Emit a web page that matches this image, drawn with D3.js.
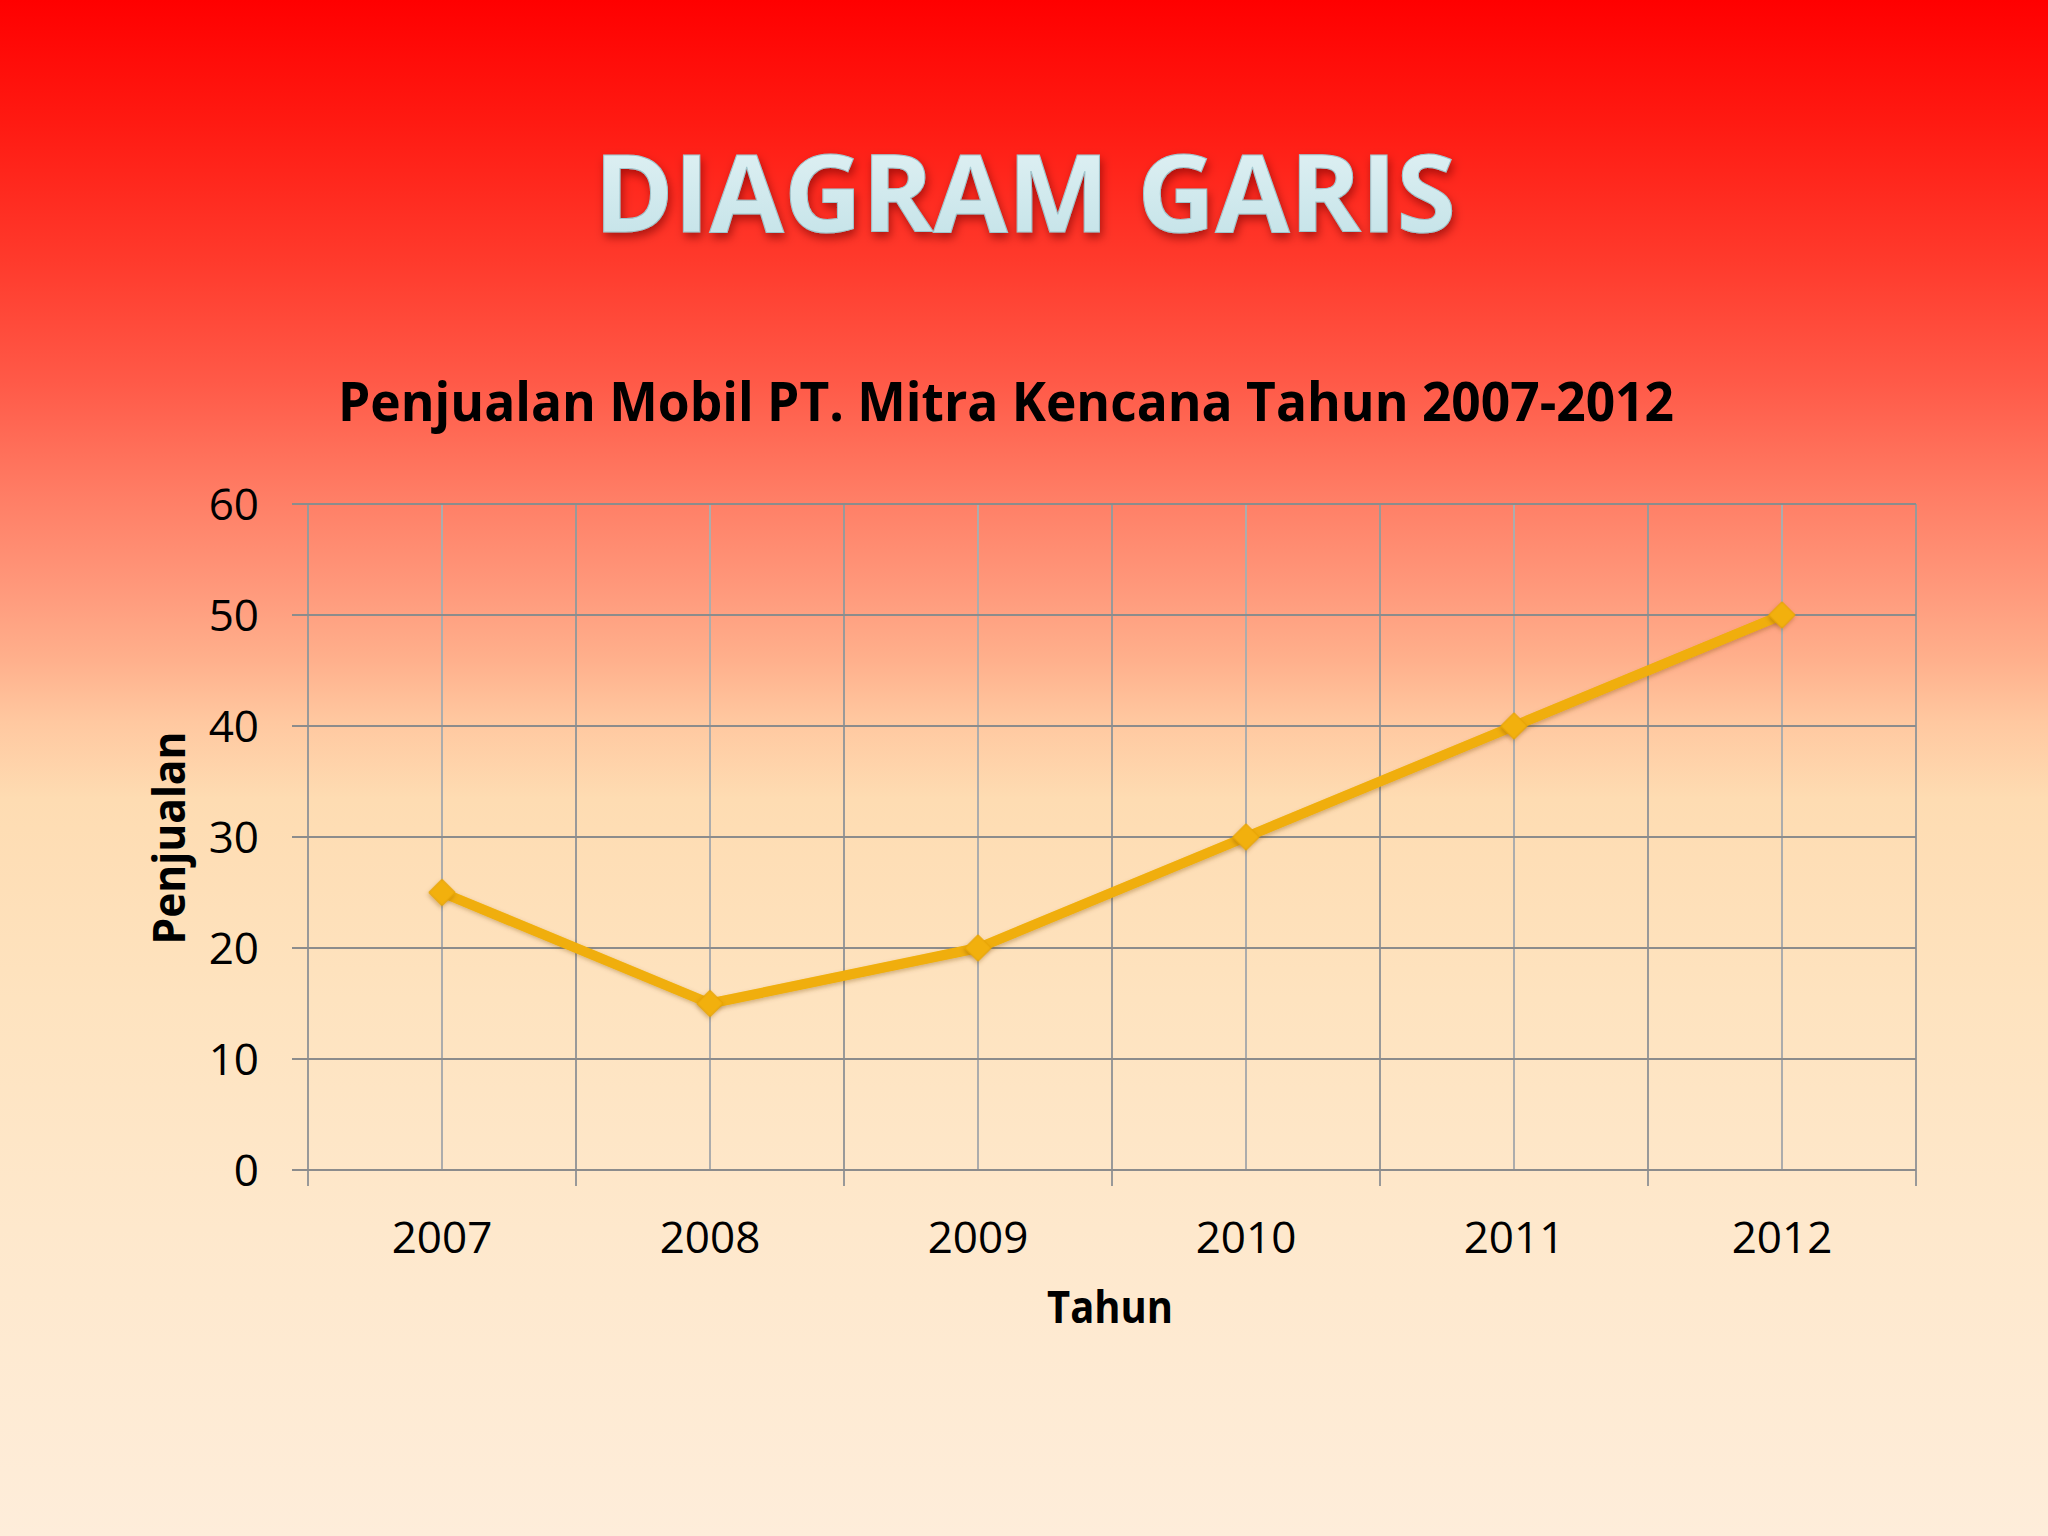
<!DOCTYPE html>
<html>
<head>
<meta charset="utf-8">
<script src="https://cdn.jsdelivr.net/npm/d3@7"></script>
<style>
  html, body { margin: 0; padding: 0; background: #fff; }
  svg { display: block; }
</style>
</head>
<body>
<svg id="chart" width="2048" height="1536"></svg>
<script>
// ---- data ----
const years = ["2007", "2008", "2009", "2010", "2011", "2012"];
const sales = [25, 15, 20, 30, 40, 50];
const yTicks = [0, 10, 20, 30, 40, 50, 60];

const slideTitle = "DIAGRAM GARIS";
const chartTitle = "Penjualan Mobil PT. Mitra Kencana Tahun 2007-2012";
const xTitle = "Tahun";
const yTitle = "Penjualan";

// ---- layout ----
const W = 2048, H = 1536;
const plot = { left: 308, right: 1916, top: 504, bottom: 1170 };
const FONT = "'Open Sans', 'Noto Sans', sans-serif";

const svg = d3.select("#chart");
const defs = svg.append("defs");

// background gradient
const bg = defs.append("linearGradient").attr("id", "bg")
  .attr("x1", 0).attr("y1", 0).attr("x2", 0).attr("y2", 1);
[[0, "#ff0000"], [0.08, "#ff1a12"], [0.17, "#ff3a2c"], [0.25, "#ff5a48"],
 [0.32, "#ff7c64"], [0.38, "#ff977a"], [0.43, "#ffb08c"], [0.47, "#ffc8a0"],
 [0.52, "#fedcb2"], [0.65, "#fee3bf"], [0.80, "#fee8cc"], [1, "#feedda"]]
  .forEach(([o, c]) => bg.append("stop").attr("offset", o).attr("stop-color", c));
svg.append("rect").attr("width", W).attr("height", H).attr("fill", "url(#bg)");

// title effects
const tg = defs.append("linearGradient").attr("id", "tgrad")
  .attr("x1", 0).attr("y1", 0).attr("x2", 0).attr("y2", 1);
tg.append("stop").attr("offset", 0).attr("stop-color", "#e6f4f6");
tg.append("stop").attr("offset", 0.5).attr("stop-color", "#d2eaee");
tg.append("stop").attr("offset", 1).attr("stop-color", "#bfe0e6");

const f = defs.append("filter").attr("id", "shadow")
  .attr("x", "-10%").attr("y", "-30%").attr("width", "120%").attr("height", "170%");
f.append("feGaussianBlur").attr("in", "SourceAlpha").attr("stdDeviation", 5).attr("result", "b");
f.append("feOffset").attr("in", "b").attr("dx", 2).attr("dy", 5).attr("result", "o");
f.append("feFlood").attr("flood-color", "#6a0a00").attr("flood-opacity", 0.55);
f.append("feComposite").attr("in2", "o").attr("operator", "in").attr("result", "s");
const m = f.append("feMerge");
m.append("feMergeNode").attr("in", "s");
m.append("feMergeNode").attr("in", "SourceGraphic");

const mf = defs.append("filter").attr("id", "mshadow")
  .attr("x", "-50%").attr("y", "-50%").attr("width", "200%").attr("height", "200%");
mf.append("feGaussianBlur").attr("in", "SourceAlpha").attr("stdDeviation", 2).attr("result", "b");
mf.append("feOffset").attr("in", "b").attr("dx", 1).attr("dy", 2).attr("result", "o");
mf.append("feFlood").attr("flood-color", "#7a4a00").attr("flood-opacity", 0.35);
mf.append("feComposite").attr("in2", "o").attr("operator", "in").attr("result", "s");
const mm = mf.append("feMerge");
mm.append("feMergeNode").attr("in", "s");
mm.append("feMergeNode").attr("in", "SourceGraphic");

svg.append("text")
  .attr("x", 1025).attr("y", 232)
  .attr("text-anchor", "middle")
  .attr("font-family", FONT).attr("font-weight", 700).attr("font-size", 108)
  .attr("textLength", 862).attr("lengthAdjust", "spacingAndGlyphs")
  .attr("fill", "url(#tgrad)")
  .attr("stroke", "#9fc7cf").attr("stroke-width", 1)
  .attr("filter", "url(#shadow)")
  .text(slideTitle);

// chart title
svg.append("text")
  .attr("x", 1006).attr("y", 421)
  .attr("text-anchor", "middle")
  .attr("font-family", FONT).attr("font-weight", 700).attr("font-size", 53)
  .attr("textLength", 1336).attr("lengthAdjust", "spacingAndGlyphs")
  .attr("fill", "#000")
  .text(chartTitle);

// scales
const x = d3.scaleBand().domain(years).range([plot.left, plot.right]).padding(0);
const y = d3.scaleLinear().domain([0, 60]).range([plot.bottom, plot.top]);

const g = svg.append("g");

// vertical gridlines: band centers and boundaries
const bounds = years.map(d => x(d)).concat([plot.right]);
const centers = years.map(d => x(d) + x.bandwidth() / 2);
g.selectAll("line.vc").data(centers).join("line")
  .attr("x1", d => d).attr("x2", d => d)
  .attr("y1", plot.top).attr("y2", plot.bottom)
  .attr("stroke", "#acacac").attr("stroke-width", 2);
g.selectAll("line.vb").data(bounds).join("line")
  .attr("x1", d => d).attr("x2", d => d)
  .attr("y1", plot.top).attr("y2", plot.bottom + 16)
  .attr("stroke", "#999").attr("stroke-width", 2);

// horizontal gridlines with outward ticks
g.selectAll("line.h").data(yTicks).join("line")
  .attr("x1", plot.left - 16).attr("x2", plot.right)
  .attr("y1", d => y(d)).attr("y2", d => y(d))
  .attr("stroke", "#8c8c8c").attr("stroke-width", 2);

// y axis labels
g.selectAll("text.yl").data(yTicks).join("text")
  .attr("x", 259).attr("y", d => y(d))
  .attr("dy", "0.36em")
  .attr("text-anchor", "end")
  .attr("font-family", FONT).attr("font-size", 44).attr("fill", "#000")
  .text(d => d);

// x axis labels
g.selectAll("text.xl").data(years).join("text")
  .attr("x", d => x(d) + x.bandwidth() / 2).attr("y", 1253)
  .attr("text-anchor", "middle")
  .attr("font-family", FONT).attr("font-size", 44).attr("fill", "#000")
  .text(d => d);

// axis titles
svg.append("text")
  .attr("x", 1110).attr("y", 1323)
  .attr("text-anchor", "middle")
  .attr("font-family", FONT).attr("font-weight", 700).attr("font-size", 45)
  .attr("textLength", 126).attr("lengthAdjust", "spacingAndGlyphs")
  .attr("fill", "#000").text(xTitle);

svg.append("text")
  .attr("transform", "translate(185,838) rotate(-90)")
  .attr("text-anchor", "middle")
  .attr("font-family", FONT).attr("font-weight", 700).attr("font-size", 45)
  .attr("textLength", 213).attr("lengthAdjust", "spacingAndGlyphs")
  .attr("fill", "#000").text(yTitle);

// line
const pts = years.map((d, i) => ({ yr: d, v: sales[i] }));
const line = d3.line().x(d => x(d.yr) + x.bandwidth() / 2).y(d => y(d.v));
g.append("path").datum(pts)
  .attr("d", line)
  .attr("fill", "none")
  .attr("stroke", "#f0ae08").attr("stroke-width", 10)
  .attr("stroke-linejoin", "round")
  .attr("filter", "url(#mshadow)");

// diamond markers
g.selectAll("path.mk").data(pts).join("path")
  .attr("transform", d => `translate(${x(d.yr) + x.bandwidth() / 2},${y(d.v)}) rotate(45)`)
  .attr("d", d3.symbol().type(d3.symbolSquare).size(340))
  .attr("fill", "#f2b00a")
  .attr("stroke", "#e8a400").attr("stroke-width", 1)
  .attr("filter", "url(#mshadow)");
</script>
</body>
</html>
